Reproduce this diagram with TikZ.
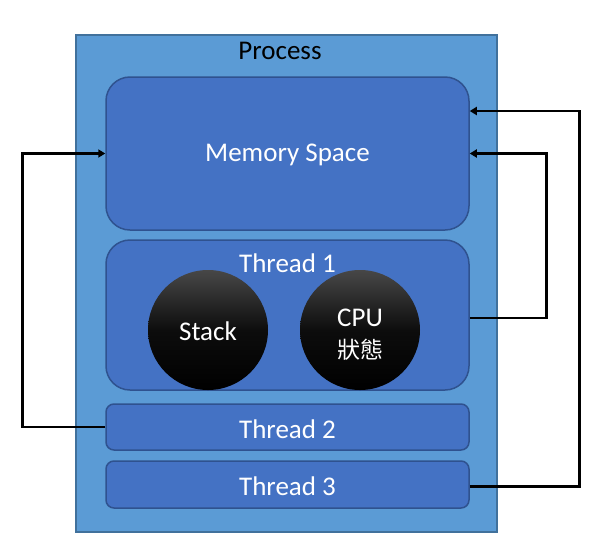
\documentclass[tikz,border=0pt]{standalone}
\usepackage{fontspec}
\setmainfont{Carlito}
\newfontfamily\cjkfont{Noto Sans CJK TC}
\usetikzlibrary{arrows.meta,calc}
\definecolor{procfill}{HTML}{5B9BD5}
\definecolor{procline}{HTML}{41719C}
\definecolor{boxfill}{HTML}{4472C4}
\definecolor{boxline}{HTML}{2F528F}
\tikzset{
  procbox/.style={draw=procline, fill=procfill, line width=1.5pt, inner sep=0pt},
  bigbox/.style={draw=boxline, fill=boxfill, line width=1.5pt, rounded corners=24pt, inner sep=0pt},
  smallbox/.style={draw=boxline, fill=boxfill, line width=1.5pt, rounded corners=8pt, inner sep=0pt},
  ball/.style={circle, minimum size=120pt, inner sep=0pt, top color=black!72, bottom color=black, middle color=black!95, draw=none},
  wtext/.style={text=white, font=\fontsize{27}{31}\selectfont, inner sep=0pt},
  btext/.style={text=black, font=\fontsize{27}{31}\selectfont, inner sep=0pt},
  conn/.style={draw=black, line width=2.8pt, -{Triangle[length=7pt,width=8pt]}}
}
\begin{document}
\begin{tikzpicture}[x=1pt,y=-1pt]
\useasboundingbox (0,0) rectangle (614,558);
\node[procbox, minimum width=421pt, minimum height=497pt] (proc) at (286.5,283.5) {};
\node[btext] (proclbl) at (280,51) {Process};
\node[bigbox, minimum width=363pt, minimum height=153pt] (mem) at (287.5,153.5) {};
\node[wtext] (memlbl) at (287.5,155) {Memory Space};
\node[bigbox, minimum width=363pt, minimum height=150pt] (t1) at (287.5,315) {};
\node[wtext] (t1lbl) at (287.5,263) {Thread 1};
\node[ball] (stack) at (208,330) {};
\node[wtext] (stacklbl) at (208,331) {Stack};
\node[ball] (cpu) at (360,330) {};
\node[wtext] (cpulbl) at (360,318) {CPU};
\node[wtext, font=\cjkfont\fontsize{23}{27}\selectfont] (statelbl) at (360,350) {狀態};
\node[smallbox, minimum width=363pt, minimum height=46pt] (t2) at (287.5,427) {};
\node[wtext] (t2lbl) at (287.5,429) {Thread 2};
\node[smallbox, minimum width=363pt, minimum height=47pt] (t3) at (287.5,484.5) {};
\node[wtext] (t3lbl) at (287.5,486) {Thread 3};
\draw[conn] ([yshift=-2pt]t3.east) -- ++(110,0) |- ([yshift=42.5pt]mem.east);
\draw[conn] ([yshift=-3pt]t1.east) -- ++(77,0) |- (mem.east);
\draw[conn] (t2.west) -- ++(-83,0) |- (mem.west);
\end{tikzpicture}
\end{document}
